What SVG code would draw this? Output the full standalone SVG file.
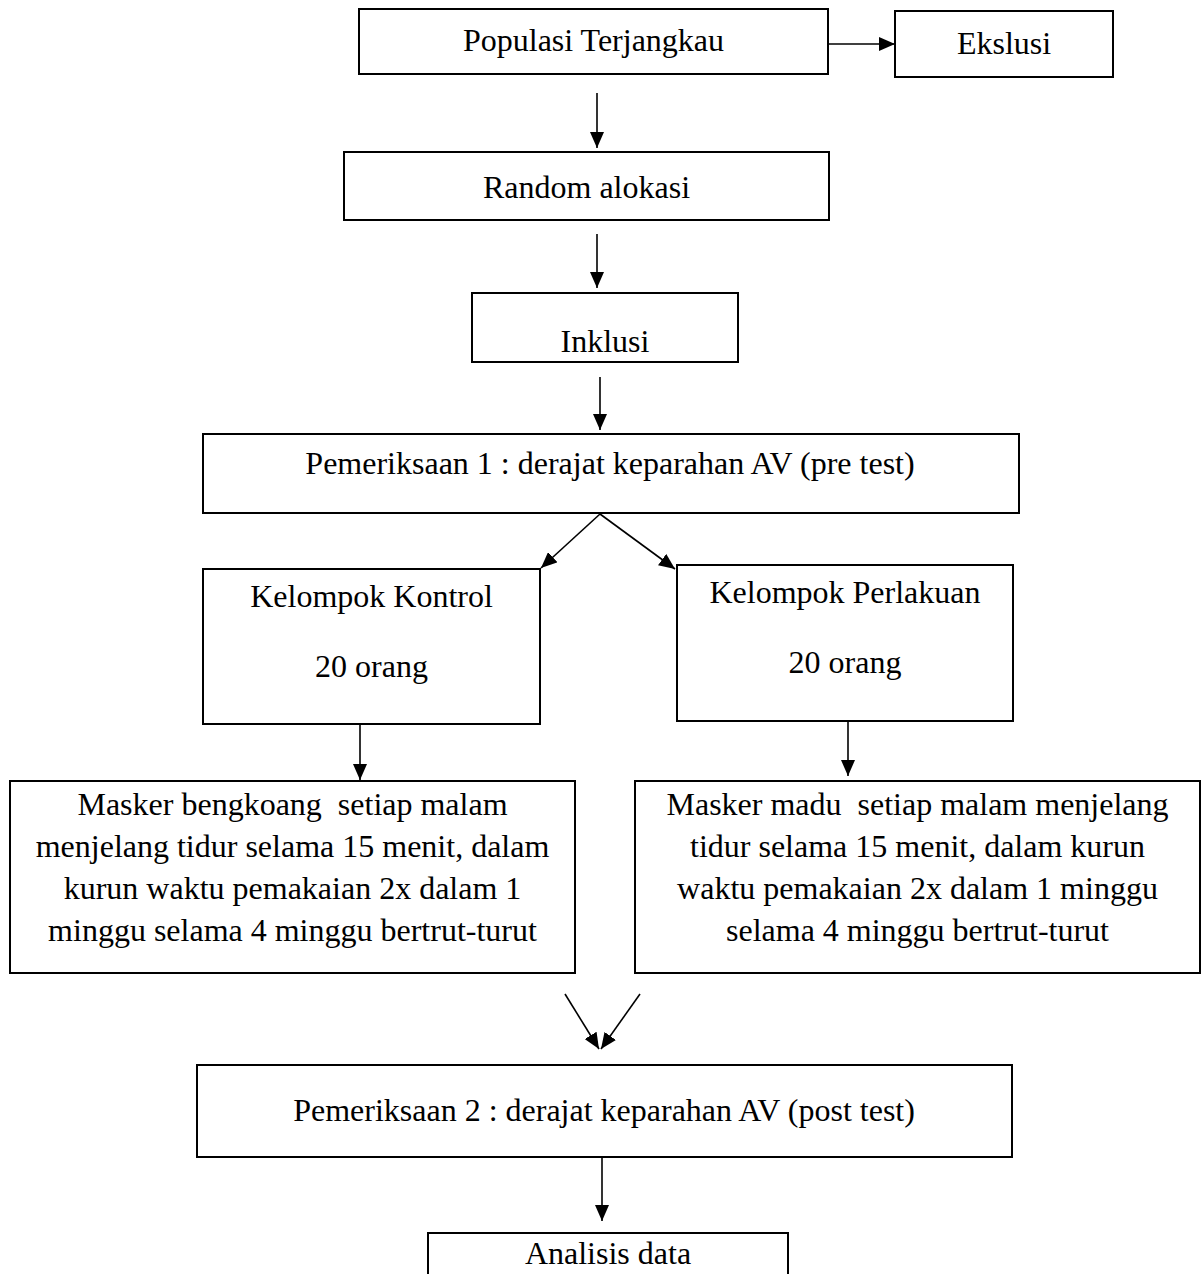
<svg xmlns="http://www.w3.org/2000/svg" width="1203" height="1274" viewBox="0 0 1203 1274">
<style>
.box{fill:#fff;stroke:#000;stroke-width:2}
.t{font-family:"Liberation Serif","Times New Roman",serif;font-size:32px;fill:#000;text-anchor:middle}
.c{stroke:#000;stroke-width:1.6;fill:none;marker-end:url(#ah)}
</style>
<defs>
<marker id="ah" viewBox="0 0 16 14" refX="16" refY="7" markerWidth="16" markerHeight="14" markerUnits="userSpaceOnUse" orient="auto">
<path d="M0,0 L16,7 L0,14 Z" fill="#000"/>
</marker>
</defs>
<rect width="1203" height="1274" fill="#fff"/>
<g id="connectors">
<line class="c" x1="828" y1="44" x2="895" y2="44"/>
<line class="c" x1="597" y1="93" x2="597" y2="148"/>
<line class="c" x1="597" y1="234" x2="597" y2="288"/>
<line class="c" x1="600" y1="377" x2="600" y2="430"/>
<line class="c" x1="600" y1="514" x2="541" y2="568"/>
<line class="c" x1="600" y1="514" x2="675" y2="569"/>
<line class="c" x1="360" y1="724" x2="360" y2="780"/>
<line class="c" x1="848" y1="721" x2="848" y2="776"/>
<line class="c" x1="565" y1="994" x2="599" y2="1049"/>
<line class="c" x1="640" y1="994" x2="601" y2="1049"/>
<line class="c" x1="602" y1="1157" x2="602" y2="1221"/>
</g>
<g id="populasi">
<rect class="box" x="359" y="9" width="469" height="65"/>
<text class="t" x="593.5" y="51">Populasi Terjangkau</text>
</g>
<g id="ekslusi">
<rect class="box" x="895" y="11" width="218" height="66"/>
<text class="t" x="1004" y="54">Ekslusi</text>
</g>
<g id="random">
<rect class="box" x="344" y="152" width="485" height="68"/>
<text class="t" x="586.5" y="198">Random alokasi</text>
</g>
<g id="inklusi">
<rect class="box" x="472" y="293" width="266" height="69"/>
<text class="t" x="605" y="352">Inklusi</text>
</g>
<g id="pemeriksaan1">
<rect class="box" x="203" y="434" width="816" height="79"/>
<text class="t" x="610" y="474">Pemeriksaan 1 : derajat keparahan AV (pre test)</text>
</g>
<g id="kontrol">
<rect class="box" x="203" y="569" width="337" height="155"/>
<text class="t" x="371.5" y="607">Kelompok Kontrol</text>
<text class="t" x="371.5" y="677">20 orang</text>
</g>
<g id="perlakuan">
<rect class="box" x="677" y="565" width="336" height="156"/>
<text class="t" x="845" y="603">Kelompok Perlakuan</text>
<text class="t" x="845" y="673">20 orang</text>
</g>
<g id="masker-bengkoang">
<rect class="box" x="10" y="781" width="565" height="192"/>
<text class="t" x="292.5" y="815" xml:space="preserve">Masker bengkoang  setiap malam</text>
<text class="t" x="292.5" y="857">menjelang tidur selama 15 menit, dalam</text>
<text class="t" x="292.5" y="899">kurun waktu pemakaian 2x dalam 1</text>
<text class="t" x="292.5" y="941">minggu selama 4 minggu bertrut-turut</text>
</g>
<g id="masker-madu">
<rect class="box" x="635" y="781" width="565" height="192"/>
<text class="t" x="917.5" y="815" xml:space="preserve">Masker madu  setiap malam menjelang</text>
<text class="t" x="917.5" y="857">tidur selama 15 menit, dalam kurun</text>
<text class="t" x="917.5" y="899">waktu pemakaian 2x dalam 1 minggu</text>
<text class="t" x="917.5" y="941">selama 4 minggu bertrut-turut</text>
</g>
<g id="pemeriksaan2">
<rect class="box" x="197" y="1065" width="815" height="92"/>
<text class="t" x="604" y="1121">Pemeriksaan 2 : derajat keparahan AV (post test)</text>
</g>
<g id="analisis">
<rect class="box" x="428" y="1233" width="360" height="60"/>
<text class="t" x="608" y="1264">Analisis data</text>
</g>
</svg>
